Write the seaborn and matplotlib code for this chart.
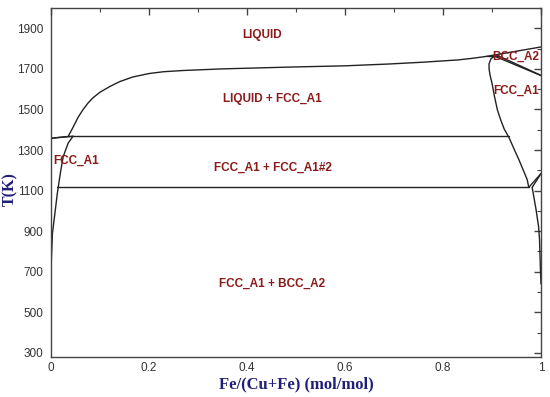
import matplotlib
matplotlib.use("Agg")
import matplotlib.pyplot as plt
import seaborn as sns
import pandas as pd
from matplotlib.ticker import MultipleLocator

# ---- data ----
liquidus_x = [0.0, 0.015, 0.035, 0.045, 0.055, 0.065, 0.075, 0.085, 0.1, 0.12, 0.14, 0.167, 0.2, 0.23, 0.27, 0.35, 0.49, 0.6, 0.69, 0.76, 0.83, 0.86, 0.89]
liquidus_T = [1358, 1362, 1367, 1412, 1460, 1498, 1530, 1556, 1585, 1613, 1637, 1660, 1677, 1686, 1692, 1700, 1709, 1715, 1724, 1733, 1744, 1752, 1762]
liq_fe_x = [0.89, 1.0]
liq_fe_T = [1762, 1808]
cu_solidus_x = [0.0, 0.045]
cu_solidus_T = [1358, 1368]
cu_solvus_x = [0.0, 0.001, 0.003, 0.008, 0.013, 0.02, 0.025, 0.035, 0.045]
cu_solvus_T = [700, 776, 891, 989, 1088, 1200, 1268, 1334, 1368]
peritectic_x = [0.035, 0.935]
peritectic_T = [1367, 1367]
eutectoid_x = [0.012, 0.975]
eutectoid_T = [1116, 1116]
fcc_fe_x = [0.905, 0.898, 0.894, 0.894, 0.896, 0.900, 0.905, 0.911, 0.918, 0.925, 0.935, 0.945, 0.955, 0.964, 0.972, 0.975]
fcc_fe_T = [1763, 1750, 1725, 1700, 1670, 1629, 1565, 1498, 1447, 1403, 1360, 1305, 1252, 1200, 1153, 1116]
delta_peri_x = [0.89, 0.915]
delta_peri_T = [1762, 1762]
delta1_x = [0.905, 1.0]
delta1_T = [1763, 1667]
delta2_x = [0.915, 1.0]
delta2_T = [1762, 1668]
a3_gamma_x = [0.975, 1.0]
a3_gamma_T = [1116, 1184]
a3_alpha_x = [0.982, 1.0]
a3_alpha_T = [1116, 1184]
alpha_solvus_x = [0.982, 0.99, 0.995, 0.997, 0.998, 0.999, 1.0]
alpha_solvus_T = [1116, 1005, 923, 860, 780, 700, 640]

labels = ["LIQUID", "LIQUID + FCC_A1", "FCC_A1", "FCC_A1 + FCC_A1#2", "FCC_A1 + BCC_A2", "BCC_A2", "FCC_A1"]
label_x = [0.43, 0.451, 0.005, 0.453, 0.451, 0.949, 0.949]
label_T = [1867, 1551, 1245, 1210, 642, 1760, 1591]

x_ticks = [0, 0.2, 0.4, 0.6, 0.8, 1]
y_ticks = [300, 500, 700, 900, 1100, 1300, 1500, 1700, 1900]

curves = {
    "liquidus": (liquidus_x, liquidus_T),
    "liq_fe": (liq_fe_x, liq_fe_T),
    "cu_solidus": (cu_solidus_x, cu_solidus_T),
    "cu_solvus": (cu_solvus_x, cu_solvus_T),
    "peritectic": (peritectic_x, peritectic_T),
    "eutectoid": (eutectoid_x, eutectoid_T),
    "fcc_fe": (fcc_fe_x, fcc_fe_T),
    "delta_peri": (delta_peri_x, delta_peri_T),
    "delta1": (delta1_x, delta1_T),
    "delta2": (delta2_x, delta2_T),
    "a3_gamma": (a3_gamma_x, a3_gamma_T),
    "a3_alpha": (a3_alpha_x, a3_alpha_T),
    "alpha_solvus": (alpha_solvus_x, alpha_solvus_T),
}
rows = []
for name, (xs, ts) in curves.items():
    for i, (a, b) in enumerate(zip(xs, ts)):
        rows.append({"curve": name, "order": i, "x": a, "T": b})
df = pd.DataFrame(rows)

sns.set_theme(style="white")
plt.rcParams["font.family"] = ["Liberation Sans", "DejaVu Sans"]

fig = plt.figure(figsize=(5.5, 3.97), dpi=100)
ax = fig.add_axes([51 / 550, 1 - 357 / 397, 490 / 550, 349 / 397])

sns.lineplot(data=df, x="x", y="T", units="curve", estimator=None, sort=False,
             color="#222222", linewidth=1.0, ax=ax, legend=False)

ax.set_xlim(0, 1)
ax.set_ylim(280, 2000)
ax.set_xticks(x_ticks)
ax.set_xticklabels([f"{v:g}" for v in x_ticks])
ax.set_yticks(y_ticks)
ax.xaxis.set_minor_locator(MultipleLocator(0.1))
ax.yaxis.set_minor_locator(MultipleLocator(100))
ax.tick_params(which="both", direction="in", top=True, right=True, colors="#444444",
               labelcolor="#333333", labelsize=8.5)
ax.tick_params(which="major", length=5, width=1)
ax.tick_params(axis="y", which="major", pad=5.5)
ax.tick_params(which="minor", length=3, width=0.8)
for s in ax.spines.values():
    s.set_color("#444444")
    s.set_linewidth(1.0)

for t, lx, lt in zip(labels, label_x, label_T):
    ha = "left" if lx < 0.02 else "center"
    ax.text(lx, lt, t, color="#8b1a1a", fontsize=8.5, fontweight="bold",
            ha=ha, va="center")

ax.set_xlabel("Fe/(Cu+Fe) (mol/mol)", family=["Liberation Serif", "DejaVu Serif"],
              fontweight="bold", fontsize=12, color="#1f1f78", labelpad=2)
ax.set_ylabel("T(K)", family=["Liberation Serif", "DejaVu Serif"],
              fontweight="bold", fontsize=11.5, color="#1f1f78")
ax.yaxis.set_label_coords(-0.066, 0.48)

fig.savefig("out.png", dpi=100)
